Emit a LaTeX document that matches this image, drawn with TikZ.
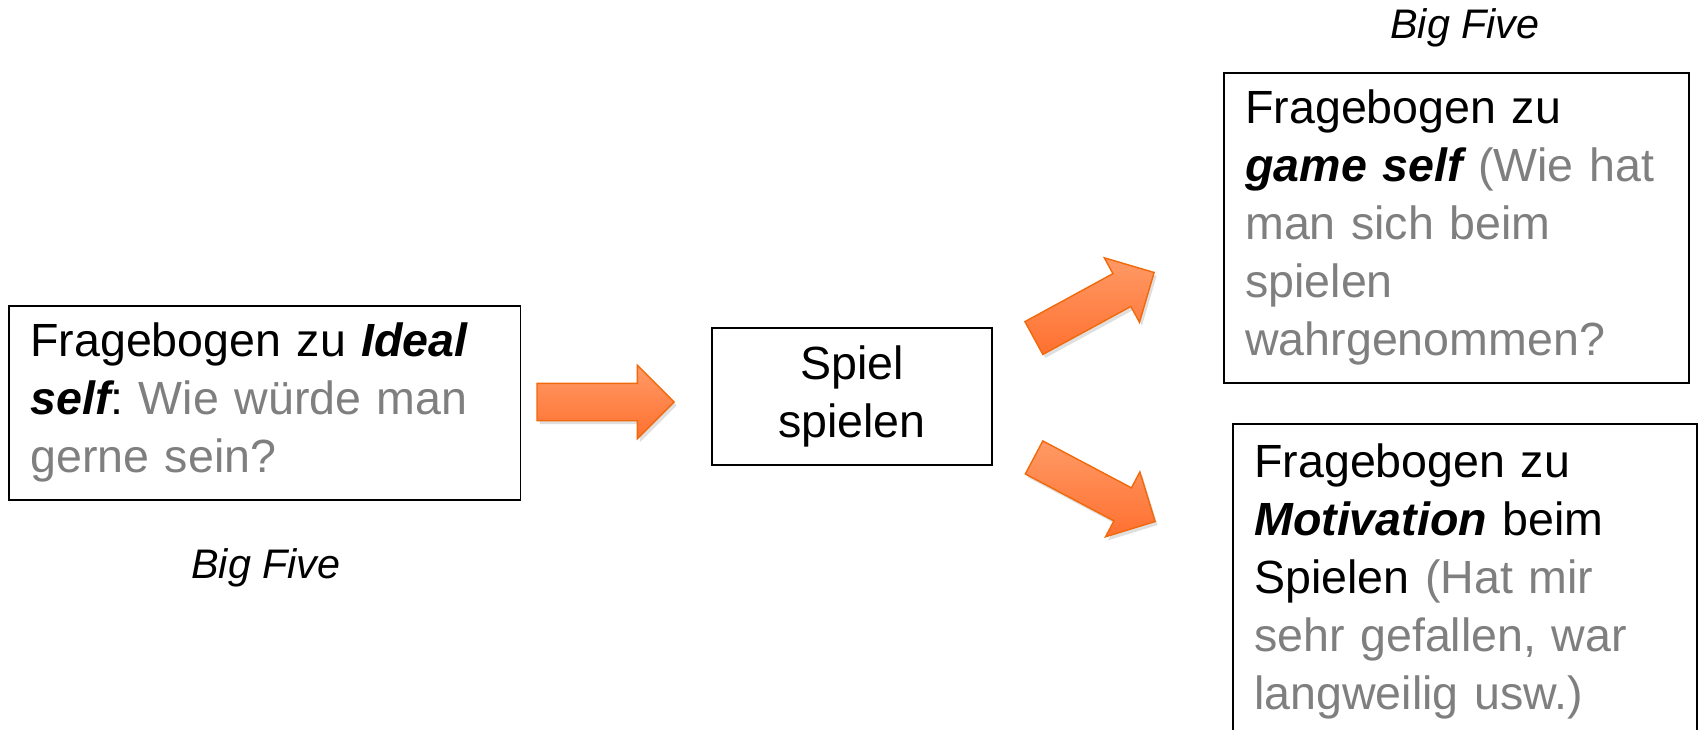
\documentclass[tikz,border=0pt]{standalone}
\usepackage{fontspec}
\setmainfont{Liberation Sans}
\usetikzlibrary{shapes.arrows,shadows}
\frenchspacing
\definecolor{askgray}{HTML}{7F7F7F}
\definecolor{arrowlight}{HTML}{FF9A66}
\definecolor{arrowdark}{HTML}{FF7030}
\definecolor{arrowline}{HTML}{F0690A}
\newcommand{\boxfont}{\fontsize{26.5}{33}\selectfont}
\newcommand{\labelfont}{\fontsize{23.5}{28}\selectfont\itshape}
\newcommand{\key}[1]{{\bfseries\itshape #1}}
\newcommand{\ask}[1]{\textcolor{askgray}{#1}}
\tikzset{
    question-box/.style = {draw=black, fill=white, line width=0.9pt, rectangle, align=left, anchor=north west, inner xsep=0.43cm, inner ysep=0pt, font=\boxfont},
    play-box/.style = {draw=black, fill=white, line width=0.9pt, rectangle, align=center, minimum width=5.6cm, minimum height=2.74cm, font=\boxfont},
    block-arrow/.style = {single arrow, anchor=tip, draw=arrowline, line width=0.8pt, top color=arrowlight, bottom color=arrowdark, minimum height=2.74cm, single arrow head extend=0.36cm, inner xsep=0pt, inner ysep=0.36cm, drop shadow={opacity=0.25, shadow xshift=0.05cm, shadow yshift=-0.07cm}},
    big-five/.style = {font=\labelfont},
}

\begin{document}
\begin{tikzpicture}[x=0.02cm, y=-0.02cm]
\useasboundingbox (0,0) rectangle (1705,730);

% questionnaires and the game
\node [question-box, text width=9.38cm, minimum height=3.88cm] (ideal) at (8,305) {Fragebogen zu \key{Ideal}\\ \key{self}: \ask{Wie würde man}\\ \ask{gerne sein?}};
\node [play-box] (spiel) at (852,396.5) {Spiel\\ spielen};
\node [question-box, text width=8.44cm, minimum height=6.2cm] (gameself) at (1223,72) {Fragebogen zu\\ \key{game self} \ask{(Wie hat}\\ \ask{man sich beim}\\ \ask{spielen}\\ \ask{wahrgenommen?}};
\node [question-box, text width=8.42cm, minimum height=6.3cm] (motiv) at (1232,423) {Fragebogen zu\\ \key{Motivation} beim\\ Spielen \ask{(Hat mir}\\ \ask{sehr gefallen, war}\\ \ask{langweilig usw.)}};

\node [big-five] (bigfiveA) at (266,568) {Big Five};
\node [big-five] (bigfiveB) at (1465,28) {Big Five};

% arrows
\node [block-arrow] (toSpiel) at (675,402) {};
\node [block-arrow, rotate=28.6] (toGame) at (1155,272) {};
\node [block-arrow, rotate=-27.9] (toMotiv) at (1156,522) {};
\end{tikzpicture}
\end{document}
